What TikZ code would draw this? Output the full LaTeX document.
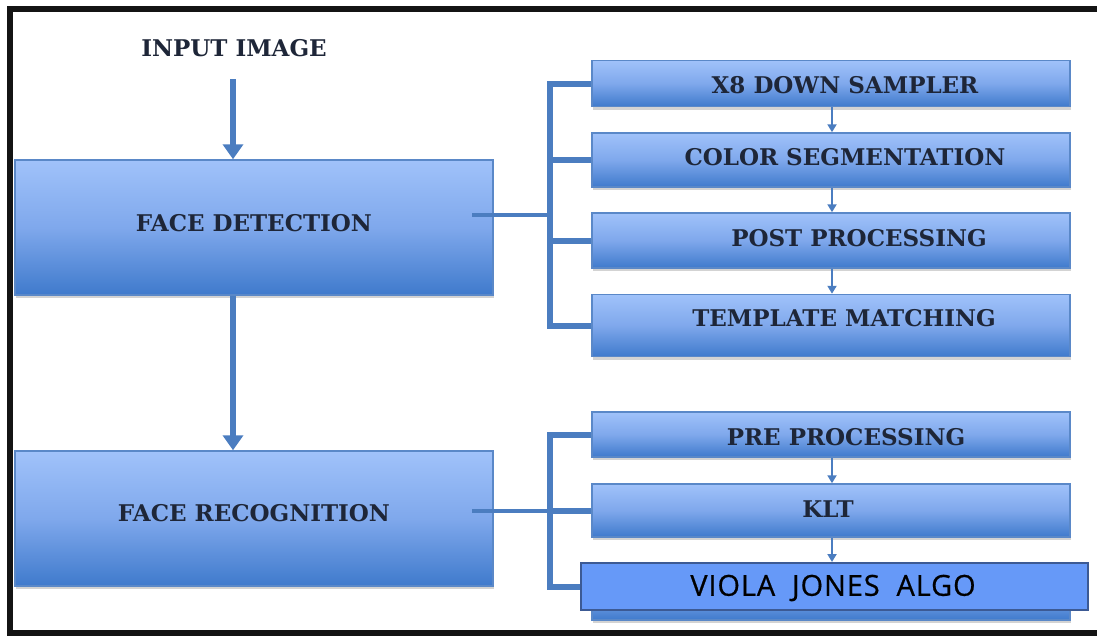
\documentclass[tikz,border=0pt]{standalone}
\usepackage{fontspec}
\setmainfont{DejaVu Serif}
\newfontfamily\algofont[LetterSpace=3,FakeBold=0.6]{Open Sans}
\usetikzlibrary{arrows.meta,shadows}

\definecolor{boxtop}{HTML}{A0C2FA}
\definecolor{boxmid}{HTML}{7FA8EC}
\definecolor{boxbot}{HTML}{3F7ACC}
\definecolor{boxedge}{HTML}{5A88C8}
\definecolor{wire}{HTML}{4B7DC0}
\definecolor{inktext}{HTML}{1E2638}
\definecolor{algofill}{HTML}{6699F8}
\definecolor{algoedge}{HTML}{3C5A94}
\definecolor{frameink}{HTML}{141414}

\tikzset{
  blockbox/.style={draw=boxedge, line width=1.5pt, top color=boxtop, bottom color=boxbot,
    middle color=boxmid, inner sep=0pt,
    drop shadow={shadow xshift=0.5pt, shadow yshift=-3pt, fill=gray, opacity=0.35}},
  boxlabel/.style={text=inktext, font=\bfseries\fontsize{23}{26}\selectfont, inner sep=0pt},
  bus/.style={draw=wire, line width=6pt, line join=miter},
  feed/.style={draw=wire, line width=4.5pt},
  mainarrow/.style={draw=wire, line width=6.5pt, -{Triangle[width=20pt,length=15pt]}},
  steparrow/.style={draw=wire, line width=2pt, -{Triangle[width=9pt,length=8pt]}},
}

\begin{document}
\begin{tikzpicture}[x=1pt, y=-1pt]
  \useasboundingbox (0,0) rectangle (1097,635);

  % outer frame (open on the right)
  \draw[frameink, line width=6pt] (1097,9) -- (9.5,9) -- (9.5,633) -- (1097,633);

  % main blocks
  \node[blockbox, minimum width=478pt, minimum height=135pt] (fd) at (254,227.5) {};
  \node[blockbox, minimum width=478pt, minimum height=135pt] (fr) at (254,518.5) {};

  % detection steps
  \node[blockbox, minimum width=478pt, minimum height=46pt] (b1) at (831,83.5) {};
  \node[blockbox, minimum width=478pt, minimum height=54pt] (b2) at (831,160) {};
  \node[blockbox, minimum width=478pt, minimum height=55pt] (b3) at (831,240.5) {};
  \node[blockbox, minimum width=478pt, minimum height=62pt] (b4) at (831,325.5) {};

  % recognition steps
  \node[blockbox, minimum width=478pt, minimum height=45pt] (r1) at (831,434.5) {};
  \node[blockbox, minimum width=478pt, minimum height=53pt] (r2) at (831,510.5) {};
  \node[blockbox, minimum width=478pt, minimum height=50pt] (r3b) at (831,595) {};
  \node[draw=algoedge, line width=2pt, fill=algofill, inner sep=0pt,
        minimum width=507pt, minimum height=47pt] (r3) at (834.5,586.5) {};

  % labels
  \node[boxlabel] (inlbl) at (234,48) {INPUT IMAGE};
  \node[boxlabel] (fdl) at (254,223) {FACE DETECTION};
  \node[boxlabel] (frl) at (254,513) {FACE RECOGNITION};
  \node[boxlabel] (b1l) at (845,85) {X8 DOWN SAMPLER};
  \node[boxlabel] (b2l) at (845,157) {COLOR SEGMENTATION};
  \node[boxlabel] (b3l) at (859,238) {POST PROCESSING};
  \node[boxlabel] (b4l) at (844,318) {TEMPLATE MATCHING};
  \node[boxlabel] (r1l) at (846,437) {PRE PROCESSING};
  \node[boxlabel] (r2l) at (828,509) {KLT};
  \node[text=black, inner sep=0pt, font=\algofont\fontsize{29}{32}\selectfont] (r3l) at (833,588)
    {VIOLA\ \ JONES\ \ ALGO};

  % main flow
  \coordinate (src) at (233,79);
  \draw[mainarrow] (src) -- (fd.north -| src);
  \draw[mainarrow] (fd.south -| src) -- (fr.north -| src);

  % detection bracket
  \coordinate (busA) at (550,0);
  \coordinate (fdo) at (472,215);
  \draw[bus] (b1.west) -- (b1.west -| busA) -- (b4.west -| busA) -- (b4.west);
  \draw[bus] (b2.west -| busA) -- (b2.west);
  \draw[bus] (b3.west -| busA) -- (b3.west);
  \draw[feed] (fdo) -- (fdo -| busA);

  % recognition bracket
  \coordinate (fro) at (472,511);
  \draw[bus] (r1.west) -- (r1.west -| busA) -- (r3.west -| busA) -- (r3.west);
  \draw[bus] (r2.west -| busA) -- (r2.west);
  \draw[feed] (fro) -- (fro -| busA);

  % step arrows
  \coordinate (stx) at (832,0);
  \draw[steparrow] (b1.south -| stx) -- (b2.north -| stx);
  \draw[steparrow] (b2.south -| stx) -- (b3.north -| stx);
  \draw[steparrow] (b3.south -| stx) -- (b4.north -| stx);
  \draw[steparrow] (r1.south -| stx) -- (r2.north -| stx);
  \draw[steparrow] (r2.south -| stx) -- (r3.north -| stx);
\end{tikzpicture}
\end{document}
